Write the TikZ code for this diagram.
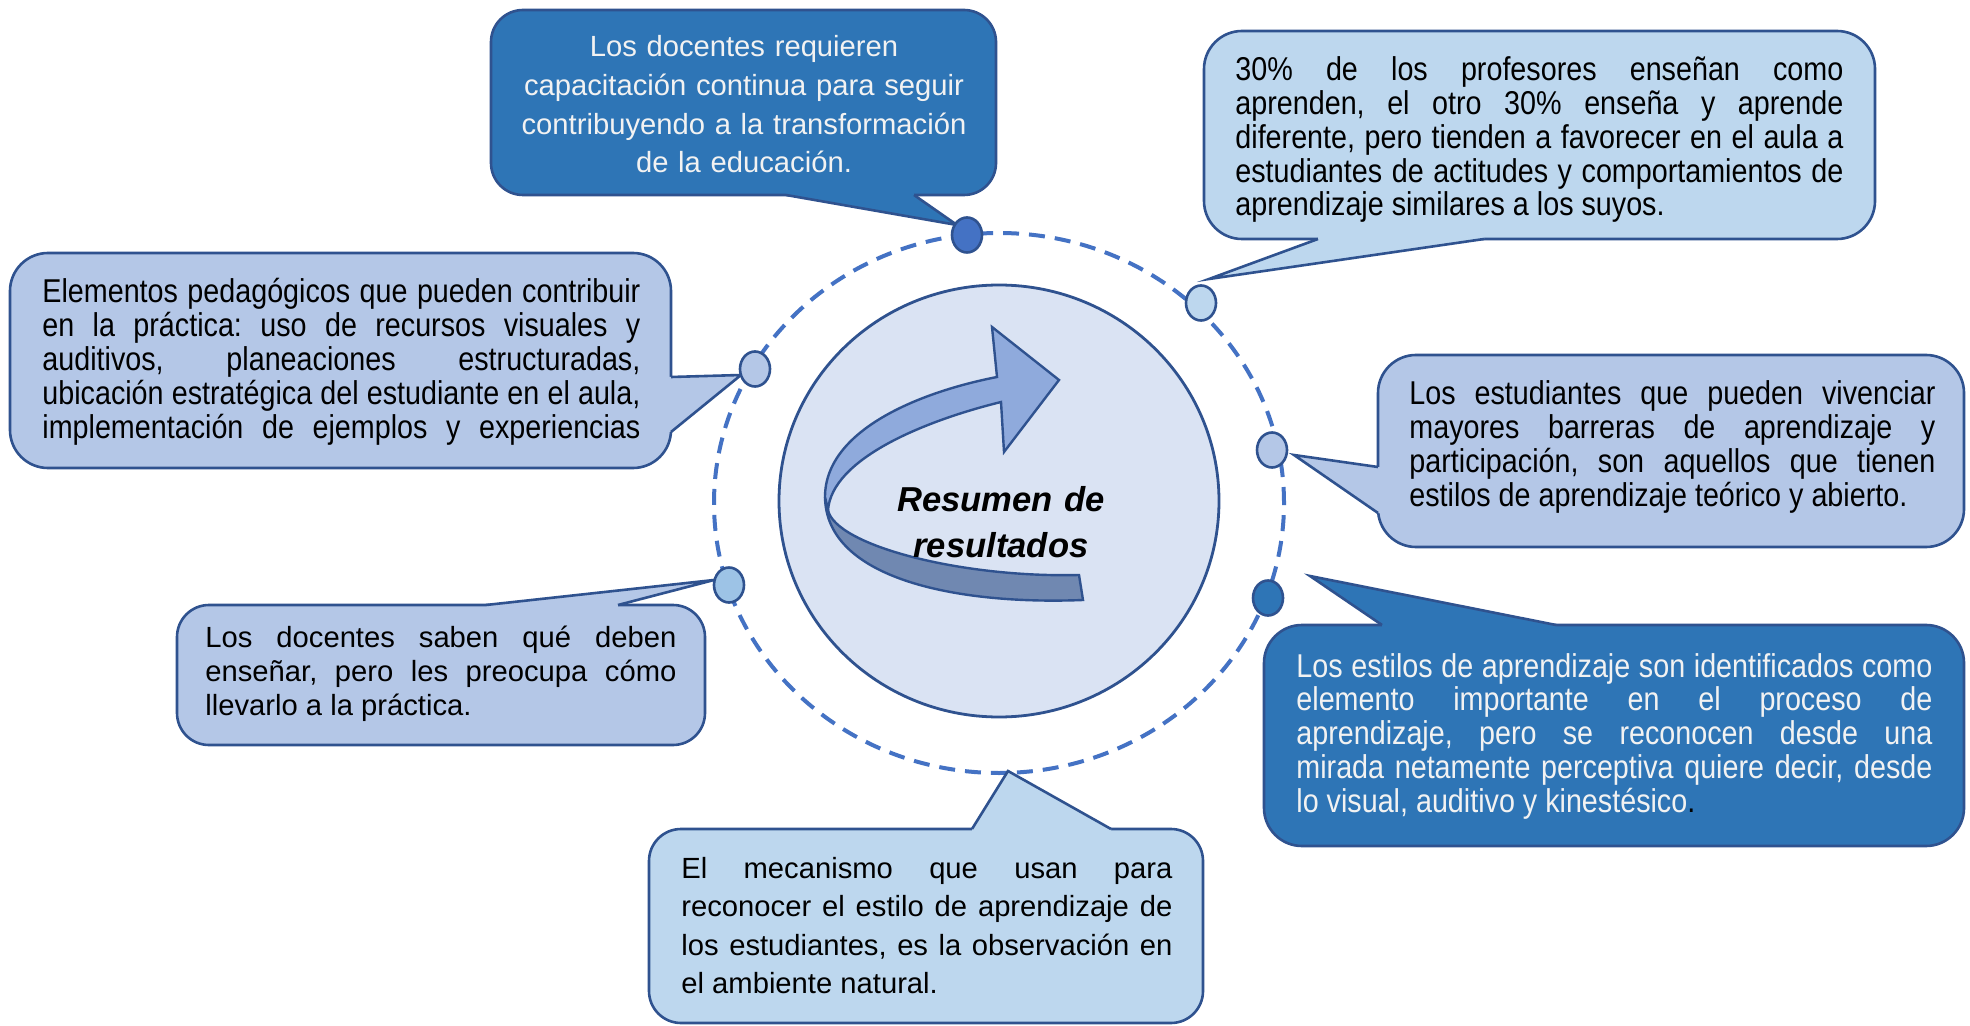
\documentclass[tikz,border=0pt]{standalone}
\usepackage{fontspec}
\setmainfont{Liberation Sans}
\newfontfamily\narrowfont[FakeStretch=0.87]{Liberation Sans}
\usetikzlibrary{shapes.geometric,calc}
\definecolor{bord}{HTML}{2F528F}
\definecolor{dkbox}{HTML}{2E75B6}
\definecolor{ltbox}{HTML}{BDD7EE}
\definecolor{mdbox}{HTML}{B4C7E7}
\definecolor{dashblue}{HTML}{4472C4}
\definecolor{circfill}{HTML}{DAE3F3}
\definecolor{arrlight}{HTML}{8FAADC}
\definecolor{arrdark}{RGB}{112,136,177}
\definecolor{dotlt}{HTML}{9DC3E6}
\definecolor{wtxt}{HTML}{F2F2F2}
\newlength\jw
\newcommand\jline[1]{\makebox[\jw][s]{\frenchspacing\spaceskip=0pt\xspaceskip=0pt #1}}
\newcommand\jset[1]{\setlength\jw{#1}\frenchspacing\spaceskip=0pt\xspaceskip=0pt}
\begin{document}
\begin{tikzpicture}[x=0.5pt,y=-0.5pt,
  callbox/.style={rectangle, draw=bord, line width=1.3pt, inner sep=0pt},
  tailline/.style={draw=bord, line width=1.3pt, line join=miter},
  dotnode/.style={ellipse, draw=bord, line width=1.3pt, minimum width=15pt, minimum height=17.5pt, inner sep=0pt},
  txt/.style={inner sep=0pt, anchor=base west, align=left},
  narrowtxt/.style={txt, font=\narrowfont\fontsize{16.5}{17}\selectfont},
  regtxt/.style={txt, font=\fontsize{14.6}{19.3}\selectfont},
]
\useasboundingbox (0,0) rectangle (1970,1026);
\fill[white] (0,0) rectangle (1970,1026);

% dashed ring and core
\node[ellipse, draw=dashblue, line width=2pt, dash pattern=on 8pt off 5pt, minimum width=285pt, minimum height=270pt, inner sep=0pt] (ring) at (999,503) {};
\node[ellipse, draw=bord, fill=circfill, line width=1.4pt, minimum width=220pt, minimum height=216pt, inner sep=0pt] (core) at (999,501) {};

% curved arrow
\filldraw[fill=arrdark, draw=bord, line width=1.2pt] (825,497) .. controls (826,580) and (960,605) .. (1083,600) -- (1079,575) .. controls (960,578) and (835,545) .. (828,510) -- cycle;
\filldraw[fill=arrlight, draw=bord, line width=1.2pt, line join=miter] (828,510) .. controls (832,460) and (920,422) .. (1001,402) -- (1004,452) -- (1059,380) -- (992,327) -- (997,377) .. controls (920,392) and (825,430) .. (825,497) -- cycle;

\node[inner sep=0pt, anchor=base, align=center, text width=200pt, font=\bfseries\itshape\fontsize{17.3}{23}\selectfont] (title) at (1001,511) {Resumen de\\resultados};

% ---- top callout
\node[callbox, fill=dkbox, rounded corners=16pt, minimum width=252.5pt, minimum height=92.5pt] (bT) at (743.5,102.5) {};
\coordinate (tT) at (957,225);
\fill[dkbox] (786,195) -- (tT) -- (914,195) -- (914,191) -- (786,191) -- cycle;
\draw[tailline] (786,195) -- (tT) -- (914,195);
\node[regtxt, anchor=base, align=center, text width=250pt, text=wtxt] (xT) at (744,57) {Los docentes requieren\\capacitación continua para seguir\\contribuyendo a la transformación\\de la educación.};

% ---- top-right callout
\node[callbox, fill=ltbox, rounded corners=19pt, minimum width=335.5pt, minimum height=104pt] (bTR) at (1539.5,135) {};
\coordinate (tTR) at (1209,279);
\fill[ltbox] (1318,239) -- (tTR) -- (1484,239) -- (1484,235) -- (1318,235) -- cycle;
\draw[tailline] (1318,239) -- (tTR) -- (1484,239);
\node[narrowtxt, text width=304pt, font=\narrowfont\fontsize{16.5}{16.85}\selectfont] (xTR) at (1235,81) {\jset{304pt}\jline{30\% de los profesores enseñan como}\\
\jline{aprenden, el otro 30\% enseña y aprende}\\
\jline{diferente, pero tienden a favorecer en el aula a}\\
\jline{estudiantes de actitudes y comportamientos de}\\
aprendizaje similares a los suyos.};

% ---- left callout
\node[callbox, fill=mdbox, rounded corners=19pt, minimum width=330.5pt, minimum height=107.5pt] (bL) at (340.5,360.5) {};
\coordinate (tL) at (741,375);
\fill[mdbox] (671,377) -- (tL) -- (671,432) -- (667,432) -- (667,377) -- cycle;
\draw[tailline] (671,377) -- (tL) -- (671,432);
\node[narrowtxt, text width=299pt] (xL) at (42,303) {\jset{299pt}\jline{Elementos pedagógicos que pueden contribuir}\\
\jline{en la práctica: uso de recursos visuales y}\\
\jline{auditivos, planeaciones estructuradas,}\\
\jline{ubicación estratégica del estudiante en el aula,}\\
\jline{implementación de ejemplos y experiencias}};

% ---- right-middle callout
\node[callbox, fill=mdbox, rounded corners=19pt, minimum width=293pt, minimum height=96pt] (bRM) at (1671,451) {};
\coordinate (tRM) at (1294,455);
\fill[mdbox] (1378,467) -- (tRM) -- (1378,513) -- (1382,513) -- (1382,467) -- cycle;
\draw[tailline] (1378,467) -- (tRM) -- (1378,513);
\node[narrowtxt, text width=263pt] (xRM) at (1409,405) {\jset{263pt}\jline{Los estudiantes que pueden vivenciar}\\
\jline{mayores barreras de aprendizaje y}\\
\jline{participación, son aquellos que tienen}\\
estilos de aprendizaje teórico y abierto.};

% ---- right-bottom callout
\node[callbox, fill=dkbox, rounded corners=19pt, minimum width=350pt, minimum height=110.5pt] (bRB) at (1614,735.5) {};
\coordinate (tRB) at (1310,576);
\fill[dkbox] (1382,625) -- (tRB) -- (1556,625) -- (1556,629) -- (1382,629) -- cycle;
\draw[tailline] (1382,625) -- (tRB) -- (1556,625);
\node[narrowtxt, text width=318pt, text=wtxt, font=\narrowfont\fontsize{16.5}{16.9}\selectfont] (xRB) at (1296,677) {\jset{318pt}\jline{Los estilos de aprendizaje son identificados como}\\
\jline{elemento importante en el proceso de}\\
\jline{aprendizaje, pero se reconocen desde una}\\
\jline{mirada netamente perceptiva quiere decir, desde}\\
lo visual, auditivo y kinestésico{\color{black}.}};

% ---- left-lower callout
\node[callbox, fill=mdbox, rounded corners=16pt, minimum width=264pt, minimum height=70pt] (bLL) at (441,675) {};
\coordinate (tLL) at (714,580);
\fill[mdbox] (486,605) -- (tLL) -- (618,605) -- (618,609) -- (486,609) -- cycle;
\draw[tailline] (486,605) -- (tLL) -- (618,605);
\node[regtxt, text width=235.5pt, font=\fontsize{14.6}{17}\selectfont] (xLL) at (205,647) {\jset{235.5pt}\jline{Los docentes saben qué deben}\\
\jline{enseñar, pero les preocupa cómo}\\
llevarlo a la práctica.};

% ---- bottom callout
\node[callbox, fill=ltbox, rounded corners=16pt, minimum width=277pt, minimum height=97pt] (bB) at (926,926) {};
\coordinate (tB) at (1008,771);
\fill[ltbox] (972,829) -- (tB) -- (1111,829) -- (1111,833) -- (972,833) -- cycle;
\draw[tailline] (972,829) -- (tB) -- (1111,829);
\node[regtxt, text width=245.5pt] (xB) at (681,878) {\jset{245.5pt}\jline{El mecanismo que usan para}\\
\jline{reconocer el estilo de aprendizaje de}\\
\jline{los estudiantes, es la observación en}\\
el ambiente natural.};

% ---- dots on the ring
\node[dotnode, fill=dashblue] (dT) at (967,235) {};
\node[dotnode, fill=ltbox] (dTR) at (1201,303) {};
\node[dotnode, fill=mdbox] (dL) at (755,369) {};
\node[dotnode, fill=mdbox] (dRM) at (1272,450) {};
\node[dotnode, fill=dkbox] (dRB) at (1268,598) {};
\node[dotnode, fill=dotlt] (dLL) at (729,585) {};
\end{tikzpicture}
\end{document}
